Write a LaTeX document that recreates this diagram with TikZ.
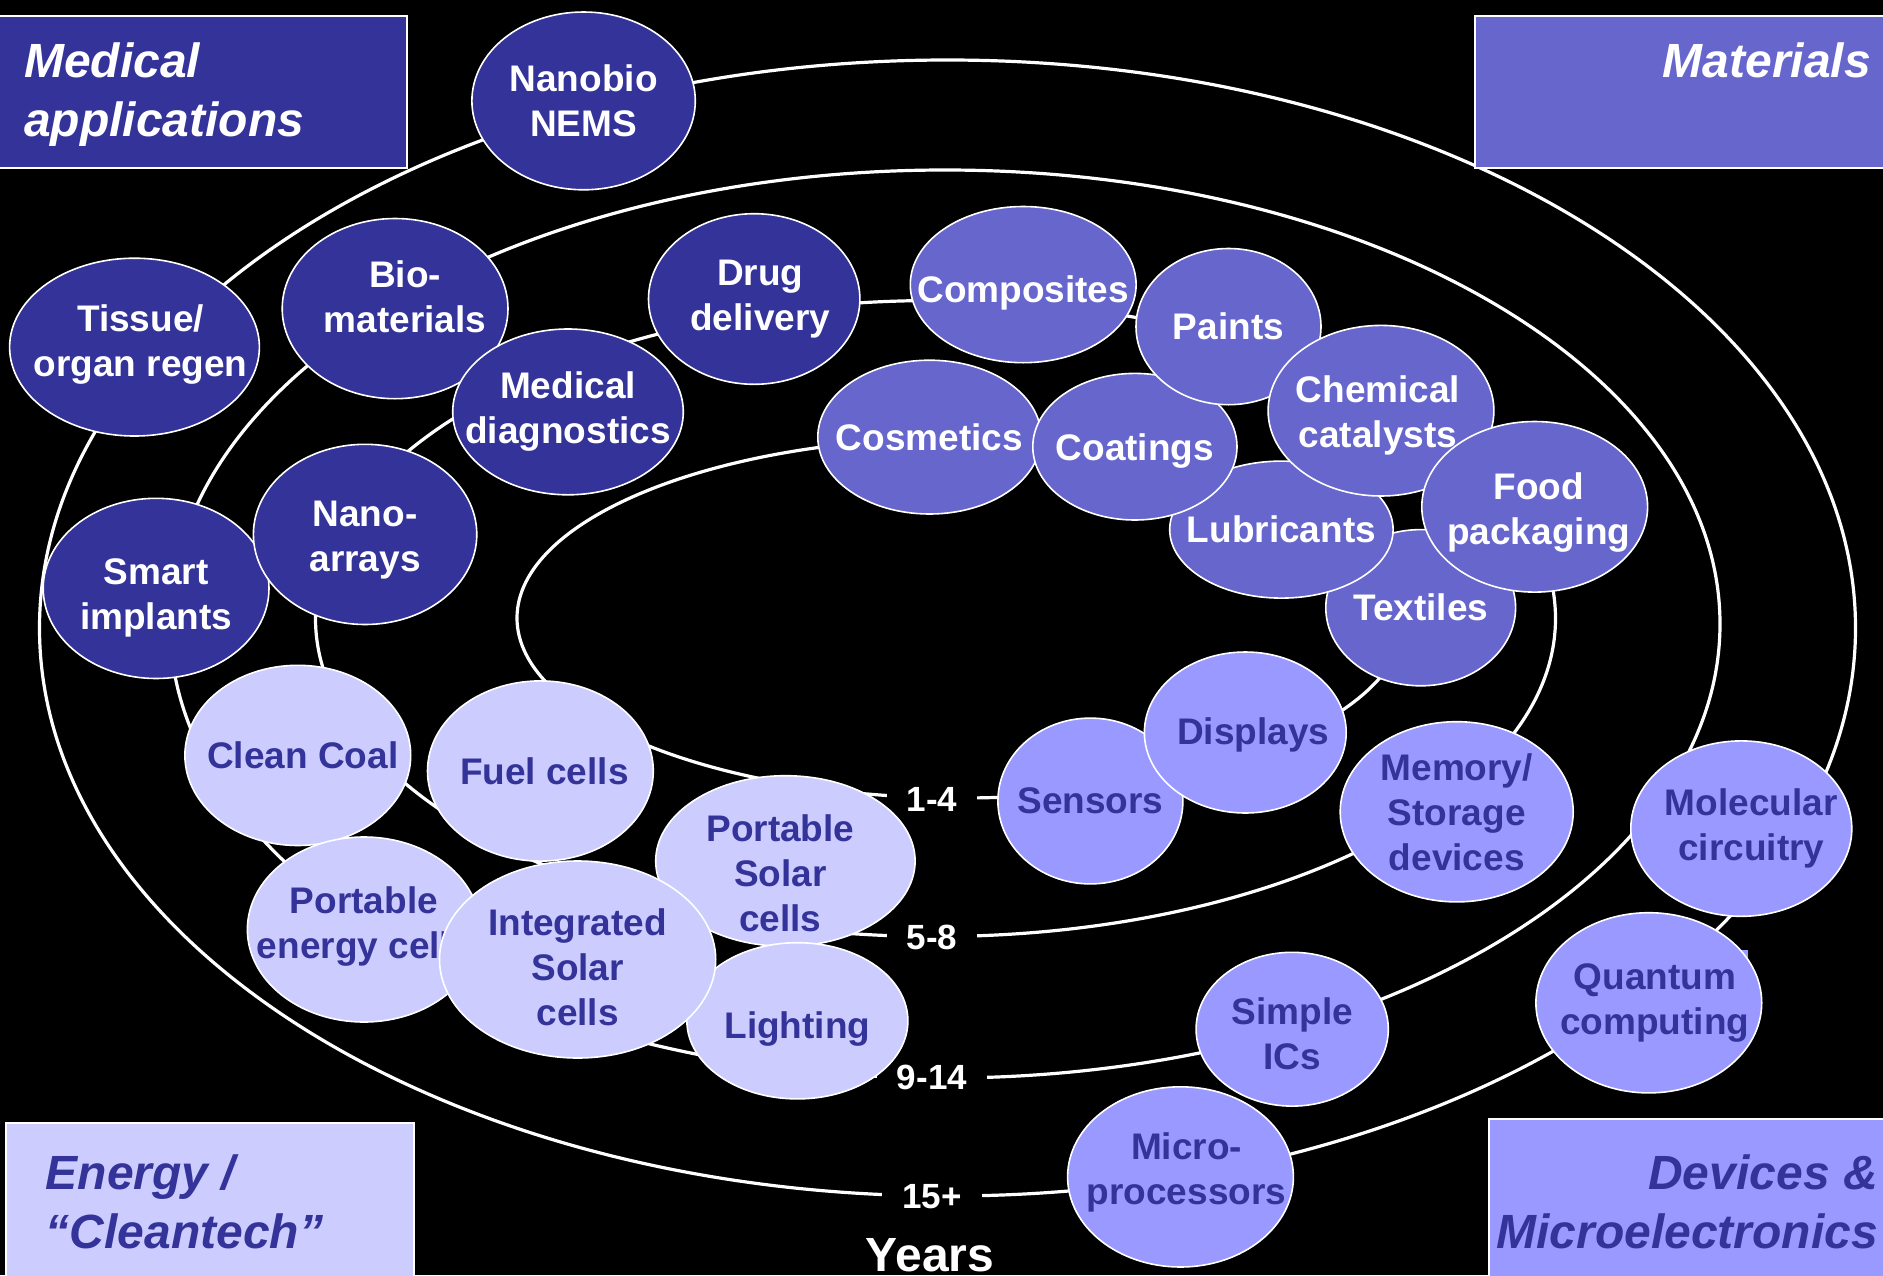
\documentclass[tikz,border=0pt]{standalone}
\usepackage{fontspec}
\setmainfont{Liberation Sans}
\usetikzlibrary{shapes.geometric}
\definecolor{medc}{HTML}{333399}
\definecolor{matc}{HTML}{6666CC}
\definecolor{devc}{HTML}{9999FF}
\definecolor{engc}{HTML}{CCCCFF}
\tikzset{
  curve/.style={draw=white, line width=3.2pt},
  bub/.style={ellipse, draw=white, line width=1.6pt, inner sep=0pt},
  medb/.style={bub, fill=medc},
  matb/.style={bub, fill=matc},
  devb/.style={bub, fill=devc},
  engb/.style={bub, fill=engc},
  wtxt/.style={text=white, align=center, inner sep=0pt, font=\fontsize{37}{45}\selectfont\bfseries},
  btxt/.style={text=medc, align=center, inner sep=0pt, font=\fontsize{37}{45}\selectfont\bfseries},
  yearlbl/.style={fill=black, text=white, inner xsep=20pt, inner ysep=4pt, font=\fontsize{35}{40}\selectfont\bfseries},
  catbox/.style={draw=white, line width=2pt},
  cattxt/.style={inner sep=0pt, font=\fontsize{48}{59}\selectfont\bfseries\itshape}
}
\begin{document}
\begin{tikzpicture}[x=1pt, y=-1pt]
\useasboundingbox (0,0) rectangle (1883,1275);
\clip (0,0) rectangle (1883,1275);
\fill[black] (0,0) rectangle (1883,1275);

% time rings
\draw[curve] (961,618) ellipse [x radius=444, y radius=180];
\draw[curve] (935.5,618.5) ellipse [x radius=620, y radius=318];
\draw[curve] (945,624) ellipse [x radius=775, y radius=454];
\draw[curve] (947.5,628) ellipse [x radius=908, y radius=568];

% year labels
\node[yearlbl] (y14) at (932,799) {1-4};
\node[yearlbl] (y58) at (932,937) {5-8};
\node[yearlbl] (y914) at (932,1077) {9-14};
\node[yearlbl] (y15) at (932,1197) {15+};
\node[text=white, anchor=base, inner sep=0pt, font=\fontsize{48}{54}\selectfont\bfseries] (years) at (930,1271) {Years};

% category boxes
\filldraw[catbox, fill=medc] (-5,15.6) rectangle (407,168);
\filldraw[catbox, fill=matc] (1474.7,15.6) rectangle (1890,168);
\filldraw[catbox, fill=engc] (6,1122.8) rectangle (414,1290);
\filldraw[catbox, fill=devc] (1489,1119.2) rectangle (1890,1290);
\node[cattxt, text=white, anchor=west, align=left] (tmed) at (24,95) {Medical\\applications};
\node[cattxt, text=white, anchor=east] (tmat) at (1871,60) {Materials};
\node[cattxt, text=medc, anchor=west, align=left] (teng) at (45.6,1202) {Energy /\\“Cleantech”};
\node[cattxt, text=medc, anchor=east, align=right] (tdev) at (1878,1202) {Devices \&\\Microelectronics};

% Medical applications
\node[medb, minimum width=223.4, minimum height=177.8, label={[wtxt]center:{Nanobio\\NEMS}}] (nanobio) at (583.6,100.9) {};
\node[medb, minimum width=249.8, minimum height=177.8, label={[wtxt, xshift=6, yshift=3]center:{Tissue/\\organ regen}}] (tissue) at (134.5,347.1) {};
\node[medb, minimum width=225.8, minimum height=180.2, label={[wtxt, xshift=10, yshift=12]center:{Bio-\\materials}}] (bio) at (395.1,308.6) {};
\node[medb, minimum width=211.4, minimum height=170.6, label={[wtxt, xshift=6]center:{Drug\\delivery}}] (drug) at (754.2,299.0) {};
\node[medb, minimum width=230.6, minimum height=165.8, label={[wtxt]center:{Medical\\diagnostics}}] (meddiag) at (568.0,411.9) {};
\node[medb, minimum width=225.8, minimum height=180.2, label={[wtxt, yshift=-10]center:{Smart\\implants}}] (smart) at (156.1,588.4) {};
\node[medb, minimum width=223.4, minimum height=180.2, label={[wtxt, yshift=-6]center:{Nano-\\arrays}}] (nanoarr) at (365.1,534.4) {};

% Materials
\node[matb, minimum width=189.8, minimum height=156.2, label={[wtxt]center:{Textiles}}] (textiles) at (1420.7,607.7) {};
\node[matb, minimum width=223.4, minimum height=137.0, label={[wtxt]center:{Lubricants}}] (lubric) at (1281.4,529.6) {};
\node[matb, minimum width=223.4, minimum height=153.8, label={[wtxt]center:{Cosmetics}}] (cosmet) at (929.5,437.1) {};
\node[matb, minimum width=204.2, minimum height=146.6, label={[wtxt, yshift=-4]center:{Coatings}}] (coatings) at (1134.9,446.7) {};
\node[matb, minimum width=225.8, minimum height=156.2, label={[wtxt, yshift=-8]center:{Composites}}] (composites) at (1023.2,284.6) {};
\node[matb, minimum width=185.0, minimum height=156.2, label={[wtxt]center:{Paints}}] (paints) at (1228.5,326.6) {};
\node[matb, minimum width=225.8, minimum height=170.6, label={[wtxt, xshift=-3, yshift=-5]center:{Chemical\\catalysts}}] (chem) at (1381.0,410.7) {};
\node[matb, minimum width=225.8, minimum height=170.6, label={[wtxt, xshift=4, yshift=-6]center:{Food\\packaging}}] (food) at (1534.7,506.8) {};

% Devices & Microelectronics
\node[devb, minimum width=185.0, minimum height=165.8, label={[btxt]center:{Sensors}}] (sensors) at (1090.4,801.0) {};
\node[devb, minimum width=201.8, minimum height=161.0, label={[btxt, xshift=8, yshift=-2]center:{Displays}}] (displays) at (1245.3,732.5) {};
\node[devb, minimum width=233.0, minimum height=180.2, label={[btxt]center:{Memory/\\Storage\\devices}}] (memory) at (1456.7,811.8) {};
\node[devb, minimum width=221.0, minimum height=175.4, label={[btxt, xshift=10]center:{Molecular\\circuitry}}] (molec) at (1741.3,828.6) {};
\fill[devc] (1741,950) rectangle (1748,961);
\node[devb, minimum width=225.8, minimum height=180.2, label={[btxt, xshift=6]center:{Quantum\\computing}}] (quantum) at (1648.8,1002.8) {};
\node[devb, minimum width=225.8, minimum height=180.2, label={[btxt, xshift=6, yshift=4]center:{Micro-\\processors}}] (micro) at (1180.5,1176.9) {};
\node[devb, minimum width=192.2, minimum height=153.8, label={[btxt, yshift=-5]center:{Simple\\ICs}}] (simpleics) at (1292.2,1029.2) {};

% Energy / Cleantech
\node[engb, minimum width=225.8, minimum height=180.2, label={[btxt, xshift=5]center:{Clean Coal}}] (coal) at (297.8,755.4) {};
\node[engb, minimum width=225.8, minimum height=180.2, label={[btxt, xshift=4]center:{Fuel cells}}] (fuel) at (540.4,771.0) {};
\node[engb, minimum width=259.4, minimum height=170.6, label={[btxt, xshift=-5, yshift=-12]center:{Portable\\Solar\\cells}}] (portsolar) at (785.4,861.0) {};
\node[engb, minimum width=221.0, minimum height=156.2, label={[btxt, yshift=-8]center:{Lighting}}] (lighting) at (797.4,1020.8) {};
\node[engb, minimum width=233.0, minimum height=185.0, label={[btxt, yshift=3]center:{Portable\\energy cells}}] (portenergy) at (363.9,929.5) {};
\node[engb, minimum width=276.2, minimum height=197.0, label={[btxt, yshift=-8]center:{Integrated\\Solar\\cells}}] (integrated) at (577.6,959.5) {};
\end{tikzpicture}
\end{document}
